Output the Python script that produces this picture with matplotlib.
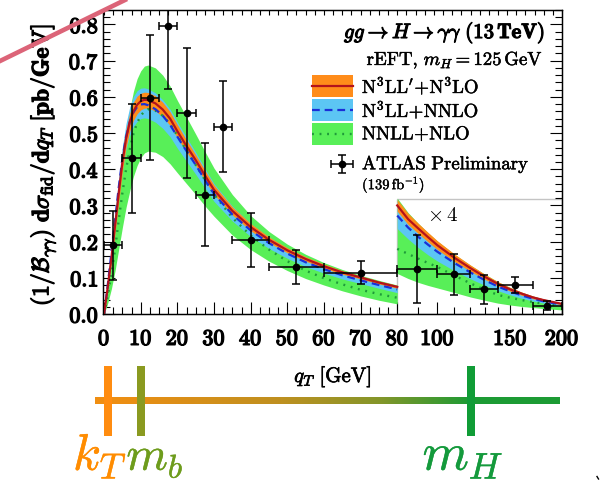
import numpy as np
import matplotlib
matplotlib.use("Agg")
import matplotlib.pyplot as plt
import matplotlib.patheffects as pe
from matplotlib.patches import Rectangle
from matplotlib.colors import LinearSegmentedColormap
from matplotlib.ticker import FixedLocator, FuncFormatter, MultipleLocator, NullLocator

plt.rcParams["mathtext.fontset"] = "cm"
plt.rcParams["font.family"] = ["DejaVu Serif"]

# transverse momentum grid [GeV]
qt = [0, 1, 2, 3, 4, 5, 6, 7, 8, 9, 10, 11, 12, 14, 16, 18, 20, 22, 25, 28, 30,
      35, 40, 45, 50, 55, 60, 65, 70, 75, 80, 85, 90, 95, 100, 110, 120, 130,
      140, 150, 160, 170, 180, 190, 200]

# (1/B) dsigma/dqT [pb/GeV] : N3LL'+N3LO
n3llp_c = [0.0, 0.075, 0.155, 0.245, 0.335, 0.42, 0.485, 0.53, 0.56, 0.578, 0.588, 0.592, 0.591,
           0.582, 0.565, 0.54, 0.505, 0.472, 0.425, 0.375, 0.343, 0.285, 0.24,
           0.205, 0.176, 0.152, 0.132, 0.115, 0.101, 0.087, 0.075,
           0.0655, 0.059, 0.053, 0.0475,
           0.0388, 0.0318, 0.0258, 0.0208, 0.017, 0.014, 0.0115, 0.0097, 0.0083, 0.007]
n3llp_hi = [0.0, 0.085, 0.17, 0.265, 0.36, 0.445, 0.51, 0.555, 0.585, 0.602, 0.61, 0.613, 0.612,
            0.603, 0.585, 0.559, 0.523, 0.489, 0.44, 0.389, 0.356, 0.296, 0.25,
            0.213, 0.183, 0.158, 0.138, 0.12, 0.105, 0.091, 0.079,
            0.0695, 0.0625, 0.0563, 0.0506,
            0.0414, 0.034, 0.0276, 0.0223, 0.0183, 0.0151, 0.0125, 0.0105, 0.009, 0.0077]
n3llp_lo = [0.0, 0.065, 0.14, 0.225, 0.31, 0.395, 0.46, 0.505, 0.535, 0.553, 0.564, 0.569, 0.569,
            0.561, 0.545, 0.521, 0.487, 0.455, 0.41, 0.361, 0.33, 0.274, 0.23,
            0.197, 0.169, 0.146, 0.126, 0.11, 0.097, 0.083, 0.071,
            0.0618, 0.0555, 0.0498, 0.0445,
            0.0362, 0.0296, 0.024, 0.0193, 0.0157, 0.0129, 0.0106, 0.0089, 0.0076, 0.0064]

# N3LL+NNLO
n3ll_c = [0.0, 0.08, 0.17, 0.26, 0.35, 0.43, 0.49, 0.53, 0.557, 0.572, 0.579, 0.58, 0.577,
          0.566, 0.548, 0.523, 0.49, 0.458, 0.412, 0.363, 0.332, 0.275, 0.231,
          0.196, 0.167, 0.143, 0.124, 0.107, 0.093, 0.08, 0.068,
          0.0597, 0.0532, 0.0478, 0.043,
          0.0352, 0.0288, 0.0235, 0.019, 0.0156, 0.0128, 0.0106, 0.0089, 0.0076, 0.0065]
n3ll_hi = [0.0, 0.092, 0.188, 0.283, 0.378, 0.462, 0.527, 0.572, 0.601, 0.617, 0.624, 0.625, 0.622,
           0.611, 0.592, 0.566, 0.53, 0.496, 0.447, 0.394, 0.36, 0.298, 0.25,
           0.213, 0.182, 0.157, 0.136, 0.118, 0.103, 0.089, 0.077,
           0.0675, 0.0605, 0.0545, 0.049,
           0.0402, 0.033, 0.0269, 0.0218, 0.0179, 0.0147, 0.0122, 0.0102, 0.0087, 0.0075]
n3ll_lo = [0.0, 0.068, 0.152, 0.237, 0.322, 0.398, 0.455, 0.493, 0.518, 0.532, 0.54, 0.542, 0.54,
           0.53, 0.513, 0.49, 0.458, 0.429, 0.386, 0.341, 0.311, 0.257, 0.214,
           0.181, 0.154, 0.131, 0.113, 0.097, 0.084, 0.071, 0.059,
           0.0518, 0.0458, 0.0408, 0.0366,
           0.0298, 0.0244, 0.0199, 0.0161, 0.0132, 0.0108, 0.009, 0.0076, 0.0065, 0.0056]

# NNLL+NLO
nnll_c = [0.0, 0.05, 0.11, 0.18, 0.26, 0.335, 0.4, 0.455, 0.498, 0.528, 0.548, 0.56, 0.566,
          0.562, 0.548, 0.525, 0.493, 0.46, 0.412, 0.363, 0.331, 0.266, 0.217,
          0.178, 0.146, 0.12, 0.099, 0.082, 0.067, 0.055, 0.045,
          0.0415, 0.0382, 0.0352, 0.0325,
          0.0265, 0.0213, 0.0168, 0.0132, 0.0112, 0.0096, 0.0083, 0.0072, 0.0063, 0.0055]
nnll_hi = [0.0, 0.06, 0.14, 0.23, 0.33, 0.42, 0.5, 0.565, 0.615, 0.65, 0.672, 0.685, 0.688,
           0.68, 0.66, 0.63, 0.59, 0.553, 0.497, 0.44, 0.403, 0.33, 0.272,
           0.228, 0.193, 0.165, 0.142, 0.123, 0.107, 0.093, 0.08,
           0.07, 0.0625, 0.056, 0.0503,
           0.0412, 0.0338, 0.0276, 0.0223, 0.0183, 0.015, 0.0124, 0.0104, 0.0088, 0.0076]
nnll_lo = [0.0, 0.03, 0.07, 0.12, 0.18, 0.24, 0.295, 0.34, 0.38, 0.41, 0.432, 0.445, 0.45,
           0.447, 0.435, 0.415, 0.39, 0.366, 0.33, 0.293, 0.27, 0.218, 0.178,
           0.146, 0.12, 0.098, 0.08, 0.064, 0.05, 0.038, 0.028,
           0.0245, 0.0218, 0.0197, 0.018,
           0.0148, 0.0118, 0.0095, 0.0075, 0.0062, 0.0052, 0.0045, 0.0038, 0.0033, 0.0028]

# ATLAS measurement, bins in qT [GeV]
atlas_bin_lo = [0, 5, 10, 15, 20, 25, 30, 35, 45, 60, 80, 100, 120, 140, 170]
atlas_bin_hi = [5, 10, 15, 20, 25, 30, 35, 45, 60, 80, 100, 120, 140, 170, 200]
atlas_val = [0.19, 0.43, 0.598, 0.796, 0.555, 0.33, 0.518, 0.204, 0.13, 0.114,
             0.031, 0.0275, 0.017, 0.02, 0.0058]
atlas_err = [0.095, 0.15, 0.173, 0.174, 0.179, 0.143, 0.125, 0.074, 0.047, 0.032,
             0.0235, 0.0142, 0.0098, 0.0055, 0.0033]

x_major = [0, 10, 20, 30, 40, 50, 60, 70, 80, 100, 150, 200]
x_minor_log = [90, 110, 120, 130, 140, 160, 170, 180, 190]

Q_BREAK = 80.0      # linear below, logarithmic above
K_DEC = 113.0       # width of one decade above the break, in linear-GeV units
TAIL_SCALE = 4.0
TAIL_BOX_TOP = 0.318

ORANGE, RED = "#ff8c1a", "#b3121c"
SKY, BLUE = "#5cc6f4", "#1a2fd8"
LIME, DKGREEN = "#58ef58", "#1f9a3a"


def heavy(w, color="black"):
    return [pe.withStroke(linewidth=w, foreground=color)]


def fwd(x):
    x = np.asarray(x, float)
    return np.where(x <= Q_BREAK, x,
                    Q_BREAK + K_DEC * np.log10(np.maximum(x, Q_BREAK) / Q_BREAK))


def inv(y):
    y = np.asarray(y, float)
    return np.where(y <= Q_BREAK, y,
                    Q_BREAK * 10 ** ((np.clip(y, Q_BREAK, 1e3) - Q_BREAK) / K_DEC))


W, H = 600, 480
fig = plt.figure(figsize=(6, 4.8), dpi=100)
ax = fig.add_axes([103 / W, 1 - 314 / H, 459 / W, 304 / H])
ax.set_xscale("function", functions=(fwd, inv))

q = np.array(qt, float)
left = q <= Q_BREAK
right = q >= Q_BREAK


def draw_theory(c, lo, hi, band_color, z, **line_kw):
    c, lo, hi = (np.asarray(a, float) for a in (c, lo, hi))
    for mask, s in ((left, 1.0), (right, TAIL_SCALE)):
        ax.fill_between(q[mask], lo[mask] * s, hi[mask] * s, color=band_color,
                        lw=0, zorder=z)
        ax.plot(q[mask], c[mask] * s, zorder=z + 10, **line_kw)


# white panel for the magnified tail
ax.add_patch(Rectangle((Q_BREAK, 0), 200 - Q_BREAK, TAIL_BOX_TOP, facecolor="white",
                       edgecolor="#c4c4c4", lw=1.0, zorder=1.5))

draw_theory(nnll_c, nnll_lo, nnll_hi, LIME, 2, color=DKGREEN, lw=1.7,
            dashes=(0.8, 2.4))
draw_theory(n3ll_c, n3ll_lo, n3ll_hi, SKY, 3, color=BLUE, lw=1.6,
            dashes=(3.5, 2.2))
draw_theory(n3llp_c, n3llp_lo, n3llp_hi, ORANGE, 4, color=RED, lw=1.6)

lo_e = np.array(atlas_bin_lo, float)
hi_e = np.array(atlas_bin_hi, float)
xc = inv((fwd(lo_e) + fwd(hi_e)) / 2)
scl = np.where(lo_e >= Q_BREAK, TAIL_SCALE, 1.0)
ax.errorbar(xc, np.array(atlas_val) * scl, xerr=[xc - lo_e, hi_e - xc],
            yerr=np.array(atlas_err) * scl, fmt="o", color="black", ms=4.5,
            elinewidth=1.1, capsize=2.6, capthick=1.1, zorder=30)

ax.text(102.7, 0.272, r"$\times\,4$", fontsize=15, ha="center", va="center", zorder=31)

# axes, ticks and labels
ax.set_xlim(-0.3, 200)
ax.set_ylim(0, 0.84)
ax.xaxis.set_major_locator(FixedLocator(x_major))
ax.xaxis.set_minor_locator(FixedLocator(
    [v for v in np.arange(2.5, Q_BREAK, 2.5) if v % 10] + x_minor_log))
ax.xaxis.set_major_formatter(FuncFormatter(lambda v, _: r"$\mathbf{%d}$" % round(v)))
ax.yaxis.set_major_locator(MultipleLocator(0.1))
ax.yaxis.set_minor_locator(MultipleLocator(0.02))
ax.yaxis.set_major_formatter(FuncFormatter(lambda v, _: r"$\mathbf{%.1f}$" % v))
ax.tick_params(which="both", direction="in", left=True, right=True, bottom=True,
               top=False, width=0.8, colors="black")
ax.tick_params(which="major", length=8.5, labelsize=16)
ax.tick_params(which="minor", length=4.7)
ax.tick_params(axis="x", pad=10)
ax.tick_params(axis="y", pad=3)
for sp in ax.spines.values():
    sp.set_linewidth(0.9)

ax.set_xlabel(r"$q_T\ [\mathrm{GeV}]$", fontsize=15)
ax.xaxis.set_label_coords(0.501, -0.207)
ax.xaxis.label.set_va("center")
ax.xaxis.label.set_path_effects(heavy(0.5))
ax.set_ylabel(r"$\mathbf{(1/}\mathcal{B}_{\gamma\gamma}\mathbf{)}\ \mathbf{d}\sigma_{\mathrm{fid}}"
              r"\mathbf{/d}q_T\ \mathbf{[pb/GeV]}$", fontsize=17)
ax.yaxis.set_label_coords(-0.131, 0.49)
ax.yaxis.label.set_va("center")
ax.yaxis.label.set_path_effects(heavy(0.9))

# evenly spaced ticks along the top edge
ax_top = ax.twiny()
ax_top.set_xlim(float(fwd(-0.3)), float(fwd(200)))
ax_top.xaxis.set_major_locator(MultipleLocator(2.5))
ax_top.xaxis.set_minor_locator(NullLocator())
ax_top.tick_params(axis="x", which="both", direction="in", length=3.6, width=0.8,
                   top=True, bottom=False, labeltop=False, labelbottom=False)
for sp in ax_top.spines.values():
    sp.set_linewidth(0.9)

# overlay in pixel units: legend, scale bar and annotations
ov = fig.add_axes([0, 0, 1, 1], zorder=10)
ov.axis("off")

ov.text(545, 33, r"$gg\to H\to\gamma\gamma\ \mathbf{(13\,TeV)}$", fontsize=15,
        ha="right", va="center", path_effects=heavy(0.8))
ov.text(543, 60, r"$\mathrm{rEFT},\,m_H=125\,\mathrm{GeV}$", fontsize=13.5,
        ha="right", va="center", path_effects=heavy(0.35))

legend_rows = [
    (r"$\mathrm{N^3LL^{\prime}\!+\!N^3LO}$", ORANGE, dict(color=RED, lw=1.6)),
    (r"$\mathrm{N^3LL\!+\!NNLO}$", SKY, dict(color=BLUE, lw=1.6, dashes=(3.5, 2.2))),
    (r"$\mathrm{NNLL\!+\!NLO}$", LIME, dict(color=DKGREEN, lw=1.7, dashes=(0.8, 2.4))),
]
for i, (lab, fc, kw) in enumerate(legend_rows):
    yc = 86 + 24 * i
    ov.add_patch(Rectangle((312, yc - 10.8), 41, 21.6, facecolor=fc, lw=0))
    ov.plot([312, 353], [yc, yc], **kw)
    ov.text(362, yc, lab, fontsize=13.5, ha="left", va="center", path_effects=heavy(0.35))

ov.errorbar([341.7], [164.3], xerr=[11], yerr=[9], fmt="o", color="black", ms=4.5,
            elinewidth=1.1, capsize=2.6, capthick=1.1)
ov.text(362, 164.3, r"$\mathrm{ATLAS\ Preliminary}$", fontsize=13.5, ha="left",
        va="center", path_effects=heavy(0.35))
ov.text(362, 184.5, r"$(139\,\mathrm{fb}^{-1})$", fontsize=10.5, ha="left", va="center",
        path_effects=heavy(0.25))

# scale hierarchy bar
grad_cmap = LinearSegmentedColormap.from_list(
    "scales",
    [(0.0, "#f08e12"), (0.028, "#f08e12"), (0.4, "#be9020"), (0.613, "#84962a"),
     (0.809, "#1c9b34"), (1.0, "#1c9b34")])
ov.imshow(np.linspace(0, 1, 512)[None, :], extent=[95, 560, 404.5, 397.5],
          aspect="auto", cmap=grad_cmap, interpolation="bilinear", zorder=1)

scale_names = [r"$k_T$", r"$m_b$", r"$m_H$"]
scale_bar_x = [108, 141, 471]
scale_bar_col = ["#ff8c10", "#8a9a20", "#109c36"]
scale_text_x = [100, 155, 463]
scale_text_col = ["#ff8c00", "#6e9c1c", "#149a3c"]
scale_text_size = [37, 34, 38]
for name, bx, bc, tx, tc, fs in zip(scale_names, scale_bar_x, scale_bar_col,
                                    scale_text_x, scale_text_col, scale_text_size):
    ov.add_patch(Rectangle((bx - 4, 366), 8, 70, facecolor=bc, lw=0, zorder=2))
    ov.text(tx, 470, name, color=tc, fontsize=fs, ha="center", va="baseline",
            path_effects=heavy(0.3, tc))

ov.plot([-10, 135], [65.9, -4.9], color="#dc6478", lw=3.3, solid_capstyle="butt", zorder=5)
ov.plot([597, 598.5], [476.5, 479], color="black", lw=1.0)

ov.set_xlim(0, W)
ov.set_ylim(H, 0)

# embolden the tick numerals
fig.canvas.draw()
for lab in ax.get_xticklabels() + ax.get_yticklabels():
    lab.set_path_effects(heavy(1.0))

fig.savefig("out.png", dpi=100)
